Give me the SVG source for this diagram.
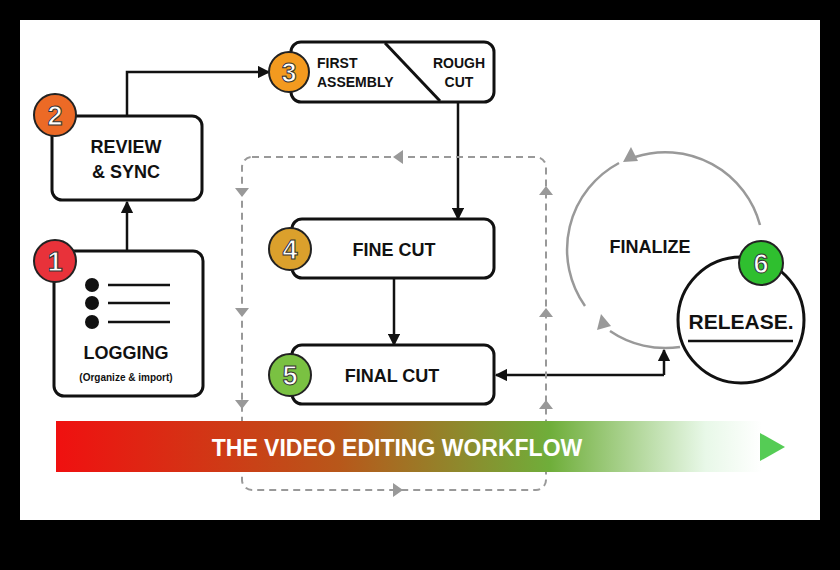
<svg xmlns="http://www.w3.org/2000/svg" width="840" height="570" viewBox="0 0 840 570">
<defs>
<style>
.box{fill:#fff;stroke:#111;stroke-width:3}
.t{font-family:"Liberation Sans",Arial,sans-serif;font-weight:bold;fill:#111}
.num{font-family:"Liberation Sans",Arial,sans-serif;font-weight:bold;font-size:27px;fill:#fff;stroke:#333;stroke-width:1;text-anchor:middle}
.badge{stroke:#222;stroke-width:2}
.ln{fill:none;stroke:#111;stroke-width:2.5}
.dash{fill:none;stroke:#999;stroke-width:2;stroke-dasharray:7 5}
.gr{fill:#999}
.arc{fill:none;stroke:#999;stroke-width:2.5}
</style>
<marker id="ah" viewBox="0 0 10 10" refX="9" refY="5" markerWidth="5" markerHeight="5" orient="auto"><path d="M0,0L10,5L0,10z" fill="#111"/></marker>
<linearGradient id="bar" x1="0" x2="1" y1="0" y2="0">
<stop offset="0" stop-color="#f01010"/><stop offset="0.4" stop-color="#b8571a"/><stop offset="0.7" stop-color="#6fae3a"/><stop offset="0.92" stop-color="#e8f8e8"/><stop offset="1" stop-color="#fff"/>
</linearGradient>
</defs>
<rect width="840" height="570" fill="#000"/>
<rect x="20" y="20" width="800" height="500" fill="#fff"/>

<g id="connectors">
<path class="ln" d="M127,251V202" marker-end="url(#ah)"/>
<path class="ln" d="M127,116V72H269" marker-end="url(#ah)"/>
<path class="ln" d="M458,102V219" marker-end="url(#ah)"/>
<path class="ln" d="M394,278V345" marker-end="url(#ah)"/>
<path class="ln" d="M664,375H496" marker-end="url(#ah)"/>
<path class="ln" d="M664,375V350" marker-end="url(#ah)"/>
<rect class="dash" x="242" y="157" width="304" height="333" rx="10"/>
<path class="gr" d="M393,157l10,-7v14z"/>
<path class="gr" d="M403,490l-10,-7v14z"/>
<path class="gr" d="M235,188h14l-7,9z M235,308h14l-7,9z M235,400h14l-7,9z"/>
<path class="gr" d="M539,195h14l-7,-9z M539,317h14l-7,-9z M539,409h14l-7,-9z"/>
<path class="arc" d="M635,157 A98,98 0 0 1 760,225"/>
<path class="arc" d="M619,163 A98,98 0 0 0 585,306"/>
<path class="arc" d="M610,331 A98,98 0 0 0 680,347"/>
<path class="gr" d="M623,162l8,-15l7,14z"/>
<path class="gr" d="M597,330l4,-16l10,12z"/>
</g>

<g id="n1">
<rect class="box" x="54" y="251" width="149" height="145" rx="10"/>
<circle cx="92" cy="285" r="7" fill="#111"/><circle cx="92" cy="303" r="7" fill="#111"/><circle cx="92" cy="322" r="7" fill="#111"/>
<path d="M108,285H170M108,303H170M108,322H170" stroke="#111" stroke-width="2.5"/>
<text class="t" x="126" y="359" font-size="18" text-anchor="middle">LOGGING</text>
<text class="t" x="126" y="381" font-size="10" text-anchor="middle">(Organize &amp; import)</text>
<circle class="badge" cx="55" cy="261" r="21" fill="#e8323a"/><text class="num" x="55" y="271">1</text>
</g>
<g id="n2">
<rect class="box" x="52" y="116" width="150" height="84" rx="10"/>
<text class="t" x="126" y="153" font-size="18" text-anchor="middle">REVIEW</text>
<text class="t" x="126" y="178" font-size="18" text-anchor="middle">&amp; SYNC</text>
<circle class="badge" cx="55" cy="115" r="21" fill="#ec6a26"/><text class="num" x="55" y="125">2</text>
</g>
<g id="n3">
<rect class="box" x="291" y="42" width="203" height="60" rx="10"/>
<path d="M385,43L440,101" stroke="#111" stroke-width="3"/>
<text class="t" x="317" y="68" font-size="14">FIRST</text>
<text class="t" x="317" y="87" font-size="14">ASSEMBLY</text>
<text class="t" x="459" y="68" font-size="14" text-anchor="middle">ROUGH</text>
<text class="t" x="459" y="87" font-size="14" text-anchor="middle">CUT</text>
<circle class="badge" cx="289" cy="72" r="20" fill="#f39a1f"/><text class="num" x="289" y="82">3</text>
</g>
<g id="n4">
<rect class="box" x="292" y="219" width="202" height="59" rx="10"/>
<text class="t" x="394" y="256" font-size="18" text-anchor="middle">FINE CUT</text>
<circle class="badge" cx="290" cy="249" r="21" fill="#dba02c"/><text class="num" x="290" y="259">4</text>
</g>
<g id="n5">
<rect class="box" x="292" y="345" width="202" height="59" rx="10"/>
<text class="t" x="392" y="382" font-size="18" text-anchor="middle">FINAL CUT</text>
<circle class="badge" cx="290" cy="375" r="21" fill="#7ac142"/><text class="num" x="290" y="385">5</text>
</g>
<g id="n6">
<text class="t" x="650" y="253" font-size="18" text-anchor="middle">FINALIZE</text>
<circle cx="741" cy="320" r="63" fill="#fff" stroke="#111" stroke-width="3"/>
<text class="t" x="741" y="329" font-size="21" text-anchor="middle">RELEASE.</text>
<path d="M688,341H793" stroke="#111" stroke-width="2.5"/>
<circle class="badge" cx="761" cy="263" r="22" fill="#2fbf2f"/><text class="num" x="761" y="273">6</text>
</g>
<g id="bar">
<rect x="56" y="421" width="706" height="51" fill="url(#bar)"/>
<path d="M760,433L785,447L760,461z" fill="#55cc55"/>
<text x="397" y="456" font-family="Liberation Sans,Arial,sans-serif" font-weight="bold" font-size="23" fill="#fff" text-anchor="middle">THE VIDEO EDITING WORKFLOW</text>
</g>
</svg>
